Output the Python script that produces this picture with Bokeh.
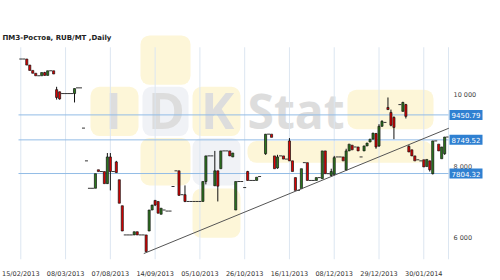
from bokeh.plotting import figure
from bokeh.models import Range1d, FixedTicker, BoxAnnotation, ColumnDataSource
from bokeh.embed import file_html
from bokeh.resources import INLINE
from bokeh.core.properties import value

# ---------------- data ----------------
title_text = "ПМЗ-Ростов,  RUB/MT ,Daily"

bar_index = [0, 1, 2, 3, 4, 5, 6, 7, 8, 9, 10, 11,
             12, 13, 14, 15, 16, 17, 18, 19, 20, 21, 22,
             23, 24, 25, 26, 27, 28, 29, 30, 31, 32, 33, 34, 35, 36, 37, 38, 39, 40, 41, 42,
             43, 44, 45, 46, 47, 48, 49, 50, 51, 52, 53, 54, 55, 56, 57, 58, 59, 60,
             61, 62, 63, 64, 65, 66, 67, 68, 69, 70, 71, 72, 73, 74, 75, 76, 77, 78, 79, 80,
             82, 83, 84, 85, 86, 87, 88, 89, 90, 91, 92, 93, 94, 95, 96, 97, 98, 99, 100,
             101, 102, 103, 104, 105, 106, 107, 108, 109, 110, 111, 112, 113, 114, 115, 116, 117, 118, 119, 120,
             121, 122, 123, 124, 125, 127, 128, 129, 130, 131, 132, 133, 134, 135, 136, 137, 138, 139, 140,
             141, 142, 143]
open_p = [11020, 11020, 11020, 10850, 10700, 10620, 10550, 10550, 10640, 10560, 10690, 10690,
          10160, 10100, 10050, 10050, 10050, 10050, 10050, 10210, 10210, 9080, 8160,
          7390, 7390, 7390, 7910, 7860, 7860, 7520, 8270, 7860, 8130, 7630, 6900, 6080, 6080, 6080, 6080, 6170, 6080, 6080, 6080,
          6190, 6780, 7050, 7020, 6660, 6780, 6750, 6750, 7440, 7880, 7880, 7210, 7210, 7020, 7020, 7020, 7020, 7020,
          7020, 7580, 8300, 8300, 7460, 7880, 7940, 8440, 8440, 8440, 8270, 6780, 7580, 7580, 7410, 7860, 7610, 7610, 7610, 7720,
          8360, 8910, 8910, 8300, 7960, 8300, 8300, 8210, 8720, 8160, 7690, 7330, 7380, 8110, 8110, 7610, 7610, 7610, 7690,
          7660, 8440, 7800, 7750, 7780, 8270, 8270, 8270, 7900, 8440, 8600, 8550, 8550, 8270, 8440, 8580, 8690, 8770, 8930, 8580,
          9130, 9240, 9660, 9520, 9380, 9740, 9550, 9740, 8570, 8470, 8300, 8190, 8160, 8190, 8000, 8160, 7800, 8720, 8630,
          8220, 8360, 8830]
high_p = [11020, 11020, 11020, 10850, 10700, 10620, 10550, 10640, 10660, 10690, 10690, 10690,
          10240, 10100, 10050, 10050, 10050, 10050, 10190, 10210, 10210, 9080, 8160,
          7390, 7390, 7800, 7910, 7860, 7860, 8380, 8380, 7860, 8160, 7630, 6900, 6080, 6080, 6080, 6170, 6170, 6080, 6080, 6080,
          6780, 6920, 7050, 7020, 6830, 6780, 6750, 6750, 7440, 7880, 7880, 7210, 7470, 7020, 7020, 7020, 7020, 7020,
          7580, 8300, 8300, 8300, 8440, 7880, 8440, 8440, 8440, 8440, 8380, 7580, 7580, 7580, 7410, 7880, 7610, 7610, 7700, 7720,
          8910, 8910, 8910, 8300, 8330, 8300, 8300, 8210, 8800, 8160, 7690, 7330, 7940, 8110, 8110, 7610, 7610, 7690, 7690,
          8440, 8440, 7800, 7940, 8300, 8270, 8270, 8270, 8500, 8630, 8600, 8550, 8550, 8270, 8580, 8660, 8770, 8940, 8940, 9190,
          9300, 9240, 9940, 9600, 9410, 9740, 9820, 9760, 8600, 8470, 8300, 8190, 8160, 8190, 8200, 8160, 8720, 8720, 8630,
          8550, 8830, 8830]
low_p = [11020, 11020, 10850, 10700, 10620, 10550, 10550, 10550, 10560, 10560, 10690, 10600,
         9880, 9880, 10050, 10050, 10050, 10050, 9800, 10210, 10210, 9080, 8160,
         7390, 7390, 7390, 7860, 7860, 7520, 7520, 7330, 7860, 7830, 6970, 6190, 6080, 6080, 6080, 6080, 6080, 6080, 6080, 5610,
         6190, 6780, 6890, 6690, 6660, 6780, 6750, 6750, 7440, 7880, 7190, 7210, 7000, 7020, 7020, 7020, 7020, 7020,
         7020, 7500, 8300, 8300, 7460, 7020, 7940, 8440, 8440, 8300, 8270, 6780, 7580, 7580, 7410, 7610, 7610, 7610, 7610, 7720,
         8330, 8910, 8820, 7940, 7940, 8300, 8210, 8210, 8160, 7860, 7330, 7330, 7380, 8110, 7610, 7610, 7610, 7610, 7690,
         7660, 7800, 7800, 7720, 7750, 8270, 8270, 8160, 7880, 8440, 8470, 8550, 8440, 8270, 8440, 8580, 8690, 8770, 8500, 8550,
         9130, 9240, 9600, 9130, 8770, 9740, 9550, 9350, 8410, 8300, 8160, 8190, 8160, 7990, 8000, 7860, 7780, 8720, 8440,
         8220, 8330, 8830]
close_p = [11020, 11020, 10850, 10700, 10620, 10550, 10550, 10640, 10560, 10690, 10690, 10600,
           9940, 9900, 10050, 10050, 10050, 10050, 10190, 10210, 10210, 9080, 8160,
           7390, 7390, 7800, 7860, 7860, 7520, 8270, 7860, 7860, 7830, 6970, 6190, 6080, 6080, 6080, 6170, 6080, 6080, 6080, 5610,
           6780, 6920, 6920, 6690, 6830, 6780, 6750, 6750, 7440, 7880, 7190, 7210, 7020, 7020, 7020, 7020, 7020, 7020,
           7580, 8300, 8300, 8300, 7880, 7450, 8440, 8440, 8440, 8300, 8380, 7580, 7580, 7580, 7410, 7610, 7610, 7610, 7700, 7720,
           8910, 8910, 8820, 7940, 8270, 8300, 8210, 8210, 8160, 7860, 7330, 7330, 7940, 8110, 7610, 7610, 7610, 7690, 7690,
           8440, 7800, 7800, 7860, 8250, 8270, 8270, 8160, 8440, 8630, 8470, 8550, 8440, 8270, 8580, 8660, 8770, 8940, 8550, 9130,
           9270, 9240, 9600, 9160, 9100, 9740, 9800, 9410, 8410, 8300, 8160, 8190, 8160, 7990, 8200, 7910, 8720, 8720, 8440,
           8550, 8830, 8830]

tick_index = [0, 15, 30, 45, 60, 75, 90, 105, 120, 135]
tick_labels = ["15/02/2013", "08/03/2013", "07/08/2013", "14/09/2013", "05/10/2013",
               "26/10/2013", "16/11/2013", "08/12/2013", "29/12/2013", "30/01/2014"]
y_ticks = [6000, 8000, 10000]
y_tick_labels = ["6 000", "8 000", "10 000"]
level_values = [9450.79, 8749.52, 7804.32]
level_labels = ["9450.79", "8749.52", "7804.32"]
trend_index = [41.2, 143.4]
trend_price = [5557, 9077]

# ---------------- geometry ----------------
PX = 2.985                 # pixels per bar
X0 = -20.3 / PX
X1 = X0 + 500 / PX
Y0, Y1 = 5390, 11821
FH, FT = 232, 30


def dx(px):
    return X0 + px / PX


def dy(py):
    return Y1 - (py - FT) / FH * (Y1 - Y0)


p = figure(width=500, height=280, x_range=Range1d(X0, X1), y_range=Range1d(Y0, Y1),
           output_backend="svg", toolbar_location=None, y_axis_location=None,
           min_border_left=0, min_border_right=0, min_border_top=FT, min_border_bottom=18)
p.xgrid.grid_line_color = None
p.ygrid.grid_line_color = None
p.outline_line_color = None
p.background_fill_color = "white"
p.border_fill_color = "white"

# watermark
YEL = "#fdf6d8"
GRY = "#f0f2f6"
boxes = [(140, 35, 190, 85, YEL), (90, 87, 138, 137, YEL), (142, 87, 188, 137, GRY),
         (192, 87, 240, 137, YEL), (347, 90, 433, 130, YEL), (140, 139, 190, 187, YEL),
         (192, 139, 240, 187, GRY), (192, 190, 240, 240, YEL), (247, 142, 432, 164, YEL)]
for (l, t, r, b, c) in boxes:
    p.add_layout(BoxAnnotation(left=dx(l), right=dx(r), top=dy(t), bottom=dy(b),
                               fill_color=c, fill_alpha=1, line_color=None,
                               border_radius=9, level="underlay"))
p.text(x=[dx(113), dx(166), dx(217)], y=[dy(111)] * 3, text=["I", "D", "K"],
       text_font=value("Open Sans"), text_font_style="bold", text_font_size="50px",
       text_align="center", text_baseline="middle", text_color="#dddddd")
p.text(x=[dx(247)], y=[dy(111)], text=["Stat"],
       text_font=value("Open Sans"), text_font_style="bold", text_font_size="48px",
       text_align="left", text_baseline="middle", text_color="#dddddd")

# grid lines (vertical) and right border
gx = [dx(20.3 + PX * t) for t in tick_index] + [dx(448)]
p.segment(x0=gx, x1=gx, y0=[dy(47)] * len(gx), y1=[Y0] * len(gx),
          line_color="#dce6f1", line_width=1)

# level lines
p.segment(x0=[dx(18)] * 3, x1=[dx(448)] * 3, y0=level_values, y1=level_values,
          line_color="#93bce6", line_width=1)

# candles
up = dict(x=[], top=[], bottom=[])
dn = dict(x=[], top=[], bottom=[])
flat = dict(x0=[], x1=[], y=[])
wick = dict(x=[], lo=[], hi=[])
for i, o, h, l, c in zip(bar_index, open_p, high_p, low_p, close_p):
    if o == c:
        flat["x0"].append(i - 0.5)
        flat["x1"].append(min(i + 0.5, dx(448)))
        flat["y"].append(o)
    elif c > o:
        up["x"].append(i); up["top"].append(c); up["bottom"].append(o)
    else:
        dn["x"].append(i); dn["top"].append(o); dn["bottom"].append(c)
    if h > max(o, c) or l < min(o, c):
        wick["x"].append(i); wick["lo"].append(l); wick["hi"].append(h)

p.segment(x0="x", x1="x", y0="lo", y1="hi", source=ColumnDataSource(wick),
          line_color="#111111", line_width=1)
p.vbar(x="x", top="top", bottom="bottom", width=0.7, source=ColumnDataSource(up),
       fill_color="#2d7a1f", line_color="#111111", line_width=0.7)
p.vbar(x="x", top="top", bottom="bottom", width=0.7, source=ColumnDataSource(dn),
       fill_color="#e00000", line_color="#111111", line_width=0.7)
p.segment(x0="x0", x1="x1", y0="y", y1="y", source=ColumnDataSource(flat),
          line_color="#333333", line_width=1)

# trend line
p.line(trend_index, trend_price, line_color="#555555", line_width=1)

# title
p.text(x=[dx(2)], y=[dy(37.5)], text=[title_text], text_font=value("DejaVu Sans"),
       text_font_style="bold", text_font_size="7px", text_align="left",
       text_baseline="middle", text_color="#222222")

# right-hand price scale (drawn as text so it sits next to the plot area)
p.text(x=[dx(453)] * len(y_ticks), y=y_ticks, text=y_tick_labels,
       text_font=value("DejaVu Sans"), text_font_size="6.5px", text_align="left",
       text_baseline="middle", text_color="#444444")

# level price boxes
p.rect(x=[dx(465.5)] * 3, y=level_values, width=33, height=10,
       width_units="screen", height_units="screen",
       fill_color="#2f80d1", line_color=None)
p.text(x=[dx(465.5)] * 3, y=level_values, text=level_labels,
       text_font=value("DejaVu Sans"), text_font_size="7px", text_align="center",
       text_baseline="middle", text_color="white")

# bottom axis
xa = p.xaxis[0]
xa.ticker = FixedTicker(ticks=tick_index)
xa.major_label_overrides = {t: s for t, s in zip(tick_index, tick_labels)}
xa.axis_line_color = None
xa.major_tick_line_color = None
xa.minor_tick_line_color = None
xa.major_label_standoff = 4
xa.major_label_text_font = "DejaVu Sans"
xa.major_label_text_font_size = "6.5px"
xa.major_label_text_color = "#333333"

open("out.html", "w").write(file_html(p, INLINE))
